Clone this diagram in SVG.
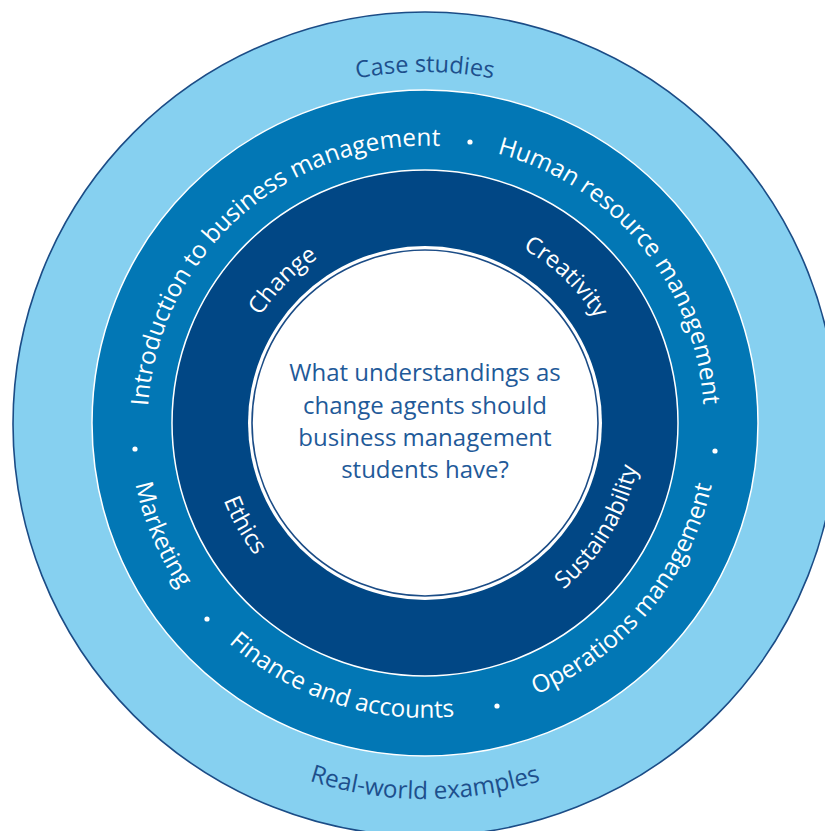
<svg xmlns="http://www.w3.org/2000/svg" width="825" height="831" viewBox="0 0 825 831">
<style>
.t{font-family:"Open Sans","Noto Sans","DejaVu Sans",sans-serif;font-size:23.5px;}
.m{font-size:24.3px;}
.w{fill:#ffffff;}
.o{fill:#1d4f8c;}
.c{font-family:"Open Sans","Noto Sans","DejaVu Sans",sans-serif;font-size:24px;fill:#1f5a99;text-anchor:middle;}
.dot{fill:#ffffff;}
</style>
<defs>
<path id="pCase" d="M74,423 A351,351 0 0 1 776,423"/>
<path id="pReal" d="M49,423 A376,376 0 0 0 801,423"/>
<path id="pIntro" d="M216.7,608.6 A279,279 0 0 1 633.3,237.4"/>
<path id="pHR" d="M247.9,207.4 A279,279 0 0 1 602.1,638.6"/>
<path id="pOps" d="M234.7,649.7 A296,296 0 0 0 615.3,196.3"/>
<path id="pFin" d="M143.5,331.5 A296,296 0 0 0 706.5,514.5"/>
<path id="pMkt" d="M309.4,150.5 A296,296 0 0 0 540.6,695.5"/>
<path id="pChange" d="M283.6,564.4 A200,200 0 0 1 566.4,281.6"/>
<path id="pCreat" d="M281.1,284.1 A200,200 0 0 1 568.9,561.9"/>
<path id="pSust" d="M312.2,610.7 A219,219 0 0 0 537.8,235.3"/>
<path id="pEth" d="M317.2,232.4 A219,219 0 0 0 532.8,613.6"/>
</defs>
<rect width="825" height="831" fill="#ffffff"/>
<g id="ring-outer">
<circle cx="425" cy="424" r="412" fill="#86d0f0" stroke="#1b4c86" stroke-width="1.6"/>
<text class="t o"><textPath href="#pCase" startOffset="50%" text-anchor="middle">Case studies</textPath></text>
<text class="t m o"><textPath href="#pReal" startOffset="50%" text-anchor="middle">Real-world examples</textPath></text>
</g>
<g id="ring-topics">
<circle cx="425" cy="423" r="333" fill="#0277b5" stroke="#ffffff" stroke-width="1.5"/>
<text class="t m w"><textPath href="#pIntro" startOffset="50%" text-anchor="middle">Introduction to business management</textPath></text>
<text class="t m w"><textPath href="#pHR" startOffset="50%" text-anchor="middle">Human resource management</textPath></text>
<text class="t m w"><textPath href="#pOps" startOffset="50%" text-anchor="middle">Operations management</textPath></text>
<text class="t m w"><textPath href="#pFin" startOffset="50%" text-anchor="middle">Finance and accounts</textPath></text>
<text class="t m w"><textPath href="#pMkt" startOffset="50%" text-anchor="middle">Marketing</textPath></text>
<circle class="dot" cx="470" cy="142" r="2.6"/>
<circle class="dot" cx="715" cy="451" r="2.6"/>
<circle class="dot" cx="497" cy="706" r="2.6"/>
<circle class="dot" cx="207" cy="619" r="2.6"/>
<circle class="dot" cx="135" cy="449" r="2.6"/>
</g>
<g id="ring-concepts">
<circle cx="425" cy="423" r="253" fill="#014785" stroke="#ffffff" stroke-width="1.5"/>
<text class="t w"><textPath href="#pChange" startOffset="50%" text-anchor="middle">Change</textPath></text>
<text class="t w"><textPath href="#pCreat" startOffset="50%" text-anchor="middle">Creativity</textPath></text>
<text class="t w"><textPath href="#pSust" startOffset="50%" text-anchor="middle">Sustainability</textPath></text>
<text class="t w"><textPath href="#pEth" startOffset="50%" text-anchor="middle">Ethics</textPath></text>
</g>
<g id="center">
<circle cx="425" cy="423" r="177" fill="#ffffff"/>
<circle cx="425" cy="423" r="173" fill="none" stroke="#1b4c86" stroke-width="1.6"/>
<text class="c" x="425" y="381">What understandings as</text>
<text class="c" x="425" y="414">change agents should</text>
<text class="c" x="425" y="446">business management</text>
<text class="c" x="425" y="478">students have?</text>
</g>
<g id="connectors"></g>
</svg>
